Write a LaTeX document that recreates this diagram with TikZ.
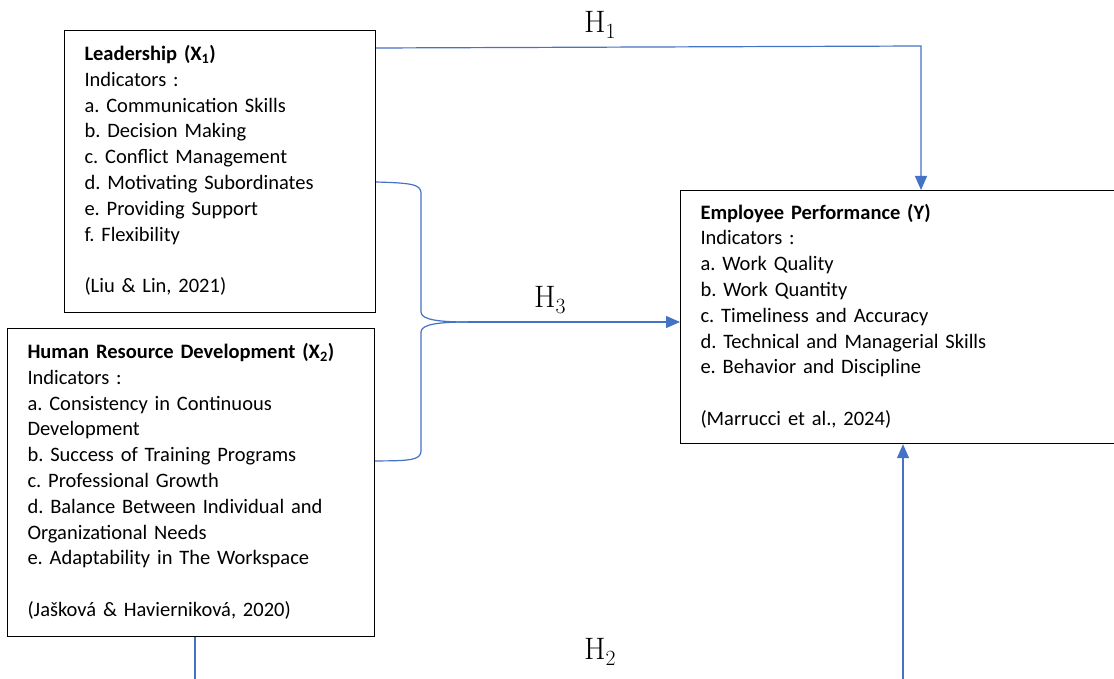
\documentclass[tikz,border=0pt]{standalone}
\usepackage[no-math]{fontspec}
\setmainfont{Carlito}
\newfontfamily\hypfont{Latin Modern Roman}
\usepackage{tikz}
\usetikzlibrary{arrows.meta}
\definecolor{linkblue}{HTML}{4472C4}
\frenchspacing

\begin{document}
\begin{tikzpicture}[x=1pt,y=-1pt,
    varbox/.style={draw,line width=1pt,align=left,anchor=north west,
      inner xsep=20pt,inner ysep=12pt,font=\fontsize{20.5}{25.8}\selectfont},
    link/.style={draw=linkblue,line width=1.2pt},
    hyp/.style={font=\hypfont\fontsize{31}{36}\selectfont}]
  \useasboundingbox (0,0) rectangle (1114,679);

%   variable boxes
  \node (lead) at (64,30) [varbox,text width=271pt] {\strut\textbf{Leadership (X\textsubscript{1})}\\
    Indicators :\\
    a. Communication Skills\\
    b. Decision Making\\
    c. Conflict Management\\
    d. Motivating Subordinates\\
    e. Providing Support\\
    f. Flexibility\\[25.8pt]
    (Liu \& Lin, 2021)\strut};
  \node (hrd) at (7,328) [varbox,text width=327pt] {\strut\textbf{Human Resource Development (X\textsubscript{2})}\\
    Indicators :\\
    a. Consistency in Continuous\\
    Development\\
    b. Success of Training Programs\\
    c. Professional Growth\\
    d. Balance Between Individual and\\
    Organizational Needs\\
    e. Adaptability in The Workspace\\[25.8pt]
    (Jašková \& Havierniková, 2020)\strut};
  \node (perf) at (680,190) [varbox,text width=400pt,inner ysep=10.5pt] {\strut\textbf{Employee Performance (Y)}\\
    Indicators :\\
    a. Work Quality\\
    b. Work Quantity\\
    c. Timeliness and Accuracy\\
    d. Technical and Managerial Skills\\
    e. Behavior and Discipline\\[25.8pt]
    (Marrucci et al., 2024)\strut};

%   hypothesis labels
  \node (h1lab) at (600,25) [hyp] {H\textsubscript{1}};
  \node (h3lab) at (550,300) [hyp] {H\textsubscript{3}};
  \node (h2lab) at (600,652) [hyp] {H\textsubscript{2}};

%   free ends
  \coordinate (h1c) at (921,46);
  \coordinate (tip) at (468,322);
  \coordinate (h2a) at (195,679);
  \coordinate (h2b) at (903,679);

%   H1
  \draw[link,-{Triangle[length=14pt,width=12pt]}] ([yshift=-18pt]lead.north east) -- (h1c) -- (h1c |- perf.north);
%   H3 brace
  \draw[link] ([yshift=-10.5pt]lead.east) .. controls (410,183) and (421,184) .. (421,193) -- (421,312)
    .. controls (421,320) and (440,322) .. (tip);
  \draw[link] ([yshift=21.5pt]hrd.east) .. controls (410,461) and (421,460) .. (421,451) -- (421,332)
    .. controls (421,324) and (440,322) .. (tip);
  \draw[link,-{Triangle[length=14pt,width=12pt]}] (tip) -- (perf.west |- tip);
%   H2
  \draw[link] (hrd.south -| h2a) -- (h2a);
  \draw[link,-{Triangle[length=14pt,width=12pt]}] (h2b) -- (h2b |- perf.south);
\end{tikzpicture}
\end{document}
